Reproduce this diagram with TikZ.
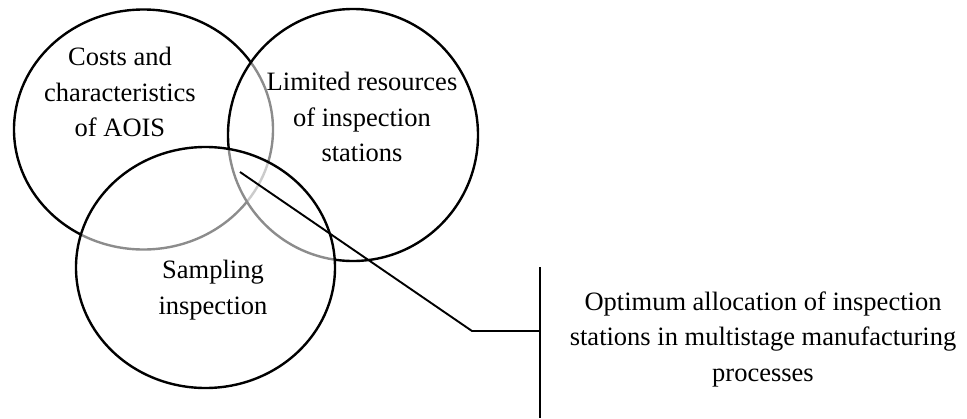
\documentclass[tikz,border=0pt]{standalone}
\usepackage{fontspec}
\setmainfont{Liberation Serif}
\usetikzlibrary{shapes.geometric}
\begin{document}
\begin{tikzpicture}[x=1pt,y=-1pt,
  ring/.style={draw=black,line width=2.4pt,ellipse,inner sep=0pt},
  veil/.style={fill=white,fill opacity=0.55},
  lbl/.style={align=center,font=\fontsize{26.5}{35.5}\selectfont,text=black},
  conn/.style={draw=black,line width=1.9pt},
  bar/.style={draw=black,line width=2.5pt}]
\useasboundingbox (0,0) rectangle (967,418);
\node[ring,minimum width=259pt,minimum height=240pt] (costs) at (143.5,129.5) {};
\node[ring,veil,minimum width=250pt,minimum height=252pt] (limited) at (353,135) {};
\node[ring,veil,minimum width=259pt,minimum height=241pt] (sampling) at (205.5,267.5) {};
\node[lbl] (tcosts) at (120,92) {Costs and\\characteristics\\of AOIS};
\node[lbl] (tlimited) at (362,117) {Limited resources\\of inspection\\stations};
\node[lbl] (tsampling) at (213,290) {Sampling\\inspection};
\node[lbl] (topt) at (763,339) {Optimum allocation of inspection\\stations in multistage manufacturing\\processes};
\coordinate (start) at (240,172);
\coordinate (bend) at (472,331);
\coordinate (join) at (540,331);
\coordinate (bartop) at (540,267);
\coordinate (barbot) at (540,418);
\draw[conn] (start) -- (bend) -- (join);
\draw[bar] (bartop) -- (barbot);
\end{tikzpicture}
\end{document}
